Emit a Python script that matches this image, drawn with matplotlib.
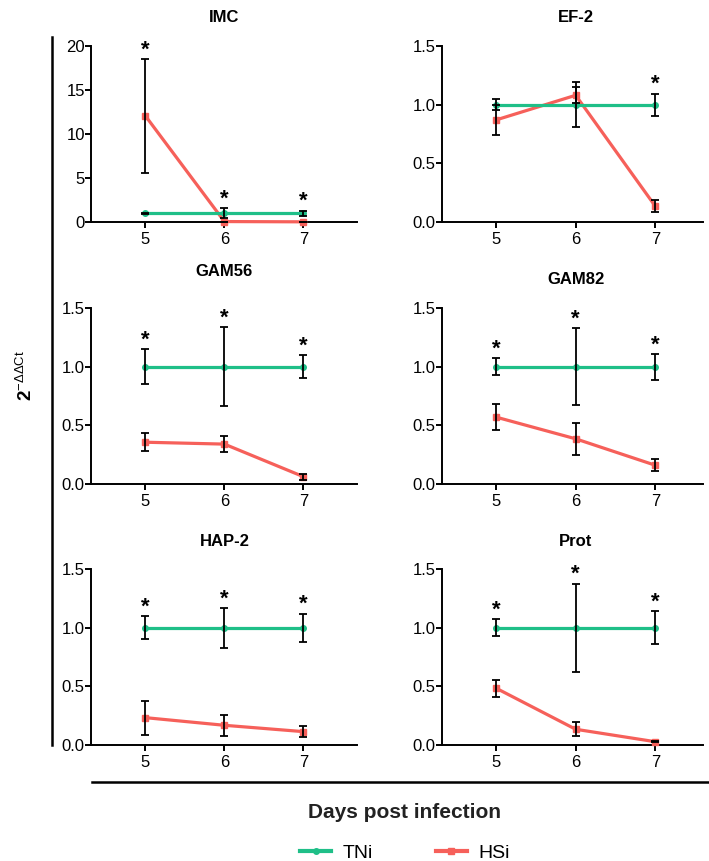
import matplotlib
matplotlib.use('Agg')
import matplotlib.pyplot as plt
from matplotlib.lines import Line2D
import matplotlib.transforms as mtransforms

plt.rcParams['font.family'] = ['Liberation Sans', 'DejaVu Sans']
plt.rcParams['mathtext.fontset'] = 'custom'
plt.rcParams['mathtext.rm'] = 'Liberation Sans'
plt.rcParams['mathtext.it'] = 'Liberation Sans'
plt.rcParams['mathtext.bf'] = 'Liberation Sans:bold'

GREEN = '#1fbf88'
RED = '#f6605a'

days = [5, 6, 7]
genes = ['IMC', 'EF-2', 'GAM56', 'GAM82', 'HAP-2', 'Prot']

tni_mean = {
    'IMC': [1.0, 1.0, 1.0],
    'EF-2': [1.0, 1.0, 1.0],
    'GAM56': [1.0, 1.0, 1.0],
    'GAM82': [1.0, 1.0, 1.0],
    'HAP-2': [1.0, 1.0, 1.0],
    'Prot': [1.0, 1.0, 1.0],
}
tni_err = {
    'IMC': [0.05, 0.6, 0.3],
    'EF-2': [0.045, 0.19, 0.095],
    'GAM56': [0.15, 0.335, 0.1],
    'GAM82': [0.075, 0.33, 0.11],
    'HAP-2': [0.1, 0.17, 0.12],
    'Prot': [0.075, 0.375, 0.138],
}
hsi_mean = {
    'IMC': [12.05, 0.05, 0.02],
    'EF-2': [0.87, 1.08, 0.135],
    'GAM56': [0.356, 0.34, 0.063],
    'GAM82': [0.57, 0.385, 0.16],
    'HAP-2': [0.233, 0.168, 0.114],
    'Prot': [0.484, 0.134, 0.028],
}
hsi_err = {
    'IMC': [6.45, 0.0, 0.0],
    'EF-2': [0.125, 0.07, 0.05],
    'GAM56': [0.075, 0.07, 0.025],
    'GAM82': [0.11, 0.135, 0.05],
    'HAP-2': [0.146, 0.09, 0.05],
    'Prot': [0.074, 0.06, 0.005],
}
# which days carry a significance star
stars = {
    'IMC': [True, True, True],
    'EF-2': [False, False, True],
    'GAM56': [True, True, True],
    'GAM82': [True, True, True],
    'HAP-2': [True, True, True],
    'Prot': [True, True, True],
}
ymax = {'IMC': 20, 'EF-2': 1.5, 'GAM56': 1.5, 'GAM82': 1.5, 'HAP-2': 1.5, 'Prot': 1.5}
yticks = {g: [0, 0.5, 1.0, 1.5] for g in genes}
yticks['IMC'] = [0, 5, 10, 15, 20]

W, H = 709, 861
fig = plt.figure(figsize=(W / 100, H / 100), dpi=100)

# pixel layout of the panels
col_x = [(91, 357, 4.31, 7.68), (442, 703, 4.32, 7.6)]
row_y = [(46, 222), (308, 484), (569, 745)]
title_gap = [29, 28, 36, 28, 27, 27]

for i, gene in enumerate(genes):
    r, c = divmod(i, 2)
    x0, x1, xlo, xhi = col_x[c]
    yt, yb = row_y[r]
    ax = fig.add_axes([x0 / W, 1 - yb / H, (x1 - x0) / W, (yb - yt) / H])

    ax.plot(days, hsi_mean[gene], color=RED, lw=2.3, marker='s', ms=4, zorder=3, clip_on=False)
    ax.plot(days, tni_mean[gene], color=GREEN, lw=2.3, marker='o', ms=4, zorder=3, clip_on=False)
    ax.errorbar(days, hsi_mean[gene], yerr=hsi_err[gene], fmt='none', ecolor='black',
                elinewidth=1.3, capsize=3.2, capthick=1.3, zorder=4, clip_on=False)
    ax.errorbar(days, tni_mean[gene], yerr=tni_err[gene], fmt='none', ecolor='black',
                elinewidth=1.3, capsize=3.2, capthick=1.3, zorder=4, clip_on=False)

    for d, m1, e1, m2, e2, s in zip(days, tni_mean[gene], tni_err[gene],
                                    hsi_mean[gene], hsi_err[gene], stars[gene]):
        if s:
            top = max(m1 + e1, m2 + e2)
            ax.annotate('*', (d, top), xytext=(0, 2.5), textcoords='offset points',
                        ha='center', va='baseline', fontsize=16, fontweight='bold',
                        annotation_clip=False)

    ax.set_xlim(xlo, xhi)
    ax.set_ylim(0, ymax[gene])
    ax.set_xticks(days)
    ax.set_yticks(yticks[gene])
    ax.set_yticklabels([f'{v:g}' if gene == 'IMC' else f'{v:.1f}' for v in yticks[gene]])
    for side in ['top', 'right']:
        ax.spines[side].set_visible(False)
    for side in ['left', 'bottom']:
        ax.spines[side].set_linewidth(1.4)
    ax.tick_params(axis='both', labelsize=12, width=1.4, length=4, pad=0.5)
    ax.tick_params(axis='x', pad=3)

    trans = mtransforms.blended_transform_factory(ax.transData, ax.transAxes)
    ax.text(6, 1 + title_gap[i] / (yb - yt), gene, transform=trans, ha='center', va='center',
            fontsize=12, fontweight='bold')

# bracket lines
fig.add_artist(Line2D([52 / W, 52 / W], [1 - 37 / H, 1 - 745 / H], color='black', lw=1.8))
fig.add_artist(Line2D([92 / W, 1.0], [1 - 782 / H, 1 - 782 / H], color='black', lw=1.8))

fig.text(26 / W, 1 - 376 / H, r'2$^{\mathrm{-\Delta\Delta Ct}}$', rotation=90,
         ha='center', va='center', fontsize=13.5, fontweight='bold')
fig.text(405 / W, 1 - 812 / H, 'Days post infection', ha='center', va='center',
         fontsize=15, fontweight='bold', color='#222222')

handles = [Line2D([], [], color=GREEN, lw=3, marker='o', ms=4),
           Line2D([], [], color=RED, lw=3, marker='s', ms=4)]
fig.legend(handles, ['TNi', 'HSi'], ncol=2, loc='center', bbox_to_anchor=(405 / W, 1 - 853 / H),
           frameon=False, fontsize=14, handlelength=1.6, columnspacing=3.2, handletextpad=0.6)

fig.savefig('out.png', dpi=100)
